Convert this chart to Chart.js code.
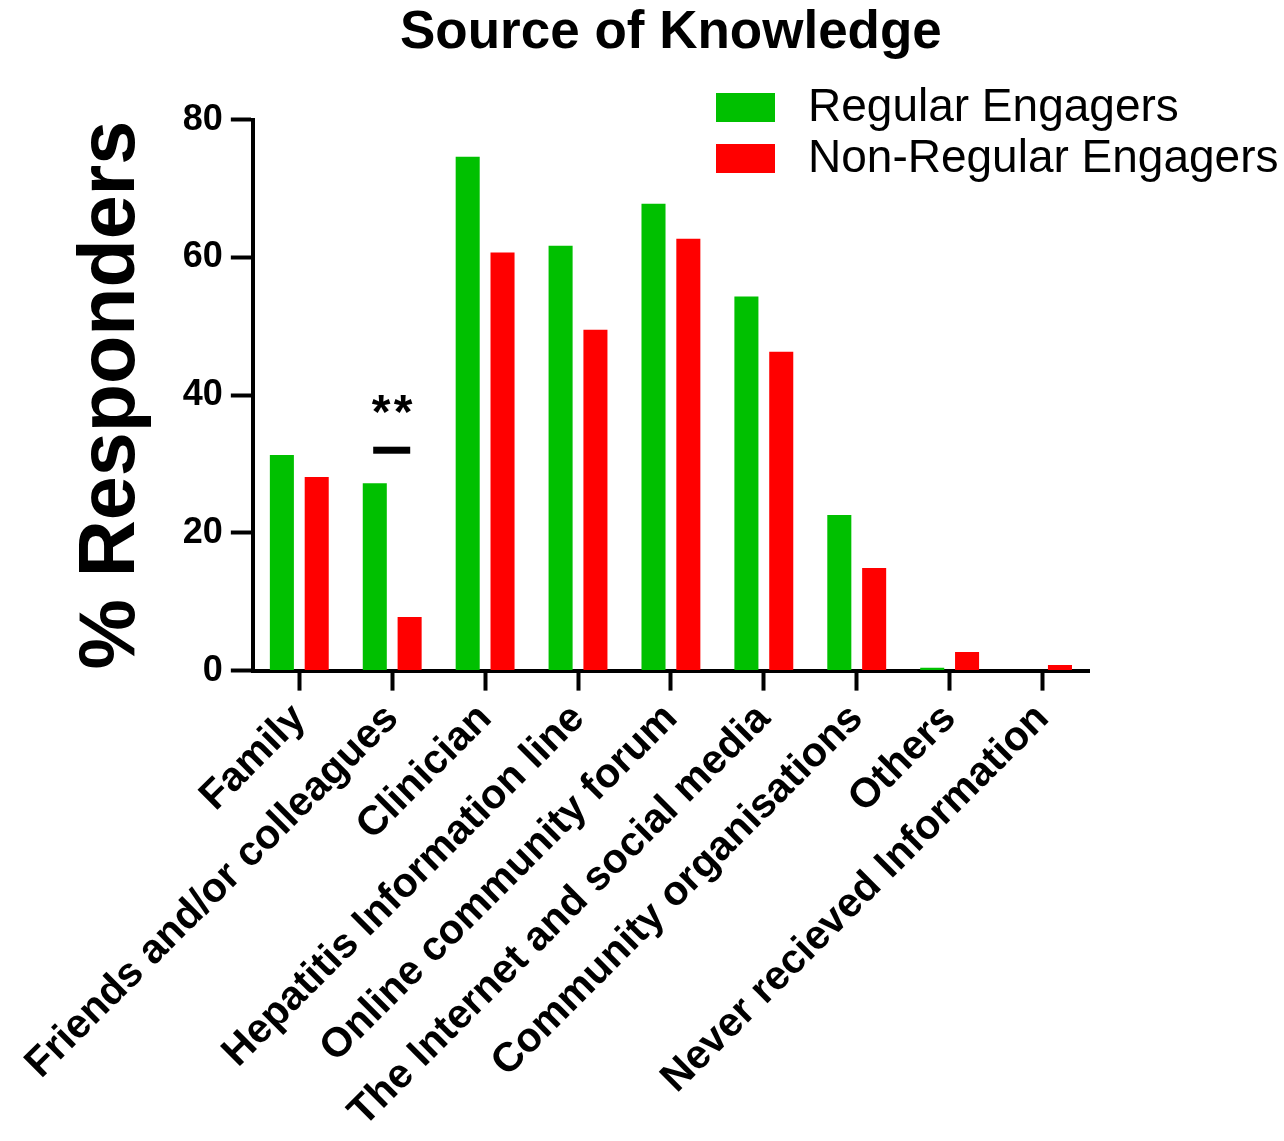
<!DOCTYPE html>
<html>
<head>
<meta charset="utf-8">
<script src="https://cdn.jsdelivr.net/npm/chart.js@4.4.1/dist/chart.umd.min.js"></script>
<style>
    body { margin: 0; background: #fff; }
    #caixa { width: 1284px; height: 1141px; position: relative; }
</style>
</head>
<body>
<div id="caixa"><canvas id="grafico_fontes"></canvas></div>
<script>
// --- Dados ---
const categorias = [
    'Family',
    'Friends and/or colleagues',
    'Clinician',
    'Hepatitis Information line',
    'Online community forum',
    'The Internet and social media',
    'Community organisations',
    'Others',
    'Never recieved Information'
];
const regulares = [31.3, 27.2, 74.6, 61.7, 67.8, 54.3, 22.6, 0.4, 0];
const naoRegulares = [28.1, 7.8, 60.7, 49.5, 62.7, 46.3, 14.9, 2.7, 0.8];
const ticksY = [0, 20, 40, 60, 80];

// marcador de significância (categoria, altura da barra, altura do texto)
const significancia = { categoria: 1, linha: 32, texto: '**', alturaTexto: 38.6 };

const FONTE = '"Liberation Sans", Arial, sans-serif';

// --- Plugin: legenda e marcador ** ---
const extras = {
    id: 'extras',
    afterDraw(chart) {
        const c = chart.ctx;
        const x = chart.scales.x;
        const y = chart.scales.y;

        // legenda no canto superior direito
        c.save();
        c.font = '46px ' + FONTE;
        c.textBaseline = 'middle';
        c.textAlign = 'left';
        chart.data.datasets.forEach((ds, i) => {
            const topo = 93 + i * 51;
            c.fillStyle = ds.backgroundColor;
            c.fillRect(716, topo, 59, 29);
            c.fillStyle = '#000';
            c.fillText(ds.label, 808, topo + 15);
        });

        // linha e asteriscos
        const cx = x.getPixelForValue(significancia.categoria);
        const ly = y.getPixelForValue(significancia.linha);
        c.fillStyle = '#000';
        c.fillRect(cx - 19, ly - 3.5, 37, 7);
        c.font = 'bold 48px ' + FONTE;
        c.textAlign = 'center';
        const ty = y.getPixelForValue(significancia.alturaTexto);
        c.fillText('*', cx - 11, ty + 10);
        c.fillText('*', cx + 11, ty + 10);
        c.restore();
    }
};

const ctx = document.getElementById('grafico_fontes');
const grafico = new Chart(ctx, {
    type: 'bar',
    data: {
        labels: categorias,
        datasets: [{
            label: 'Regular Engagers',
            data: regulares,
            backgroundColor: '#00C000',
            categoryPercentage: 0.75,
            barPercentage: 0.69
        }, {
            label: 'Non-Regular Engagers',
            data: naoRegulares,
            backgroundColor: '#FF0000',
            categoryPercentage: 0.75,
            barPercentage: 0.69
        }]
    },
    options: {
        responsive: true,
        maintainAspectRatio: false,
        animation: false,
        layout: {
            padding: { left: 65, right: 195, top: 0, bottom: 0 }
        },
        scales: {
            x: {
                offset: true,
                grid: {
                    offset: false,
                    drawOnChartArea: false,
                    drawTicks: true,
                    tickLength: 20,
                    tickWidth: 4,
                    tickColor: '#000'
                },
                border: { display: true, width: 4, color: '#000' },
                ticks: {
                    autoSkip: false,
                    minRotation: 45,
                    maxRotation: 45,
                    padding: 4,
                    color: '#000',
                    font: { family: FONTE, size: 41, weight: 'bold' }
                }
            },
            y: {
                min: 0,
                max: 80,
                afterBuildTicks(scale) {
                    scale.ticks = ticksY.map(v => ({ value: v }));
                },
                grid: {
                    drawOnChartArea: false,
                    drawTicks: true,
                    tickLength: 22,
                    tickWidth: 4,
                    tickColor: '#000'
                },
                border: { display: true, width: 4, color: '#000' },
                ticks: {
                    padding: 8,
                    color: '#000',
                    font: { family: FONTE, size: 36, weight: 'bold' }
                },
                title: {
                    display: true,
                    text: '% Responders',
                    color: '#000',
                    padding: { top: 0, bottom: 15 },
                    font: { family: FONTE, size: 79, weight: 'bold' }
                }
            }
        },
        plugins: {
            legend: { display: false },
            tooltip: { enabled: false },
            title: {
                display: true,
                text: 'Source of Knowledge',
                color: '#000',
                fullSize: false,
                padding: { top: 2, bottom: 54 },
                font: { family: FONTE, size: 53, weight: 'bold' }
            }
        }
    },
    plugins: [extras]
});
</script>
</body>
</html>
